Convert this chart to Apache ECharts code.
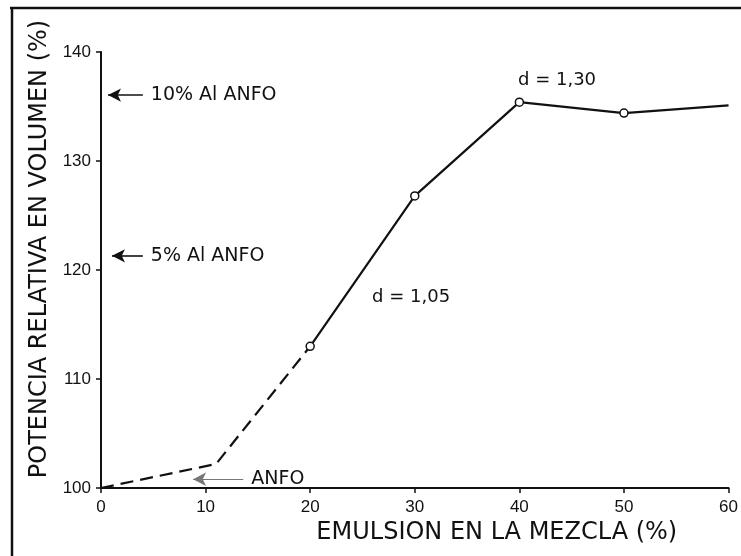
<!DOCTYPE html>
<html>
<head>
<meta charset="utf-8">
<script src="https://cdn.jsdelivr.net/npm/echarts@6/dist/echarts.min.js"></script>
<style>
  html, body { margin: 0; padding: 0; background: #fff; }
  #chart { width: 741px; height: 556px; }
</style>
</head>
<body>
<div id="chart"></div>
<script>
// ejes
const xTicks = [0, 10, 20, 30, 40, 50, 60]
const yTicks = [100, 110, 120, 130, 140]
// tramo ANFO -> d = 1,05 (discontinuo)
const dashedX = [0, 11, 20]
const dashedY = [100, 102.2, 113]
// tramo d = 1,05 -> d = 1,30 (continuo)
const solidX = [20, 30, 40, 50, 60]
const solidY = [113, 126.8, 135.4, 134.4, 135.1]
// puntos medidos (circulos)
const markedX = [20, 30, 40, 50]

const chart = echarts.init(document.getElementById('chart'))
const font = 'DejaVu Sans'

const dashedData = dashedX.map((x, i) => [x, dashedY[i]])
const solidData = solidX.map((x, i) => {
  const item = { value: [x, solidY[i]] }
  if (markedX.indexOf(x) < 0) item.symbol = 'none'
  return item
})

// flechas con su texto
const arrow = (x1, x2, y, text, color, width) => [
  { coord: [x1, y], lineStyle: { color: color, width: width, type: 'solid' } },
  { coord: [x2, y], label: { formatter: text } }
]

const option = {
  backgroundColor: '#fff',
  animation: false,
  grid: { left: 101, right: 12, top: 52, bottom: 68 },
  xAxis: {
    type: 'value',
    min: xTicks[0],
    max: xTicks[xTicks.length - 1],
    interval: 10,
    name: 'EMULSION EN LA MEZCLA (%)',
    nameLocation: 'middle',
    nameGap: 32,
    // el titulo esta desplazado a la derecha en el original
    nameTextStyle: { fontFamily: font, fontSize: 24, color: '#111', padding: [0, 0, 0, 164] },
    axisLine: { lineStyle: { color: '#111', width: 2 } },
    axisTick: { length: 5, lineStyle: { color: '#111', width: 1.5 } },
    axisLabel: { margin: 11, fontFamily: 'Liberation Sans', fontSize: 17, color: '#111' },
    splitLine: { show: false }
  },
  yAxis: {
    type: 'value',
    min: yTicks[0],
    max: yTicks[yTicks.length - 1],
    interval: 10,
    name: 'POTENCIA RELATIVA EN VOLUMEN (%)',
    nameLocation: 'middle',
    nameGap: 48,
    nameTextStyle: { fontFamily: font, fontSize: 24, color: '#111', padding: [0, 0, 0, 42] },
    axisLine: { show: true, lineStyle: { color: '#111', width: 2 } },
    axisTick: { show: true, length: 5, lineStyle: { color: '#111', width: 1.5 } },
    axisLabel: { margin: 10, fontFamily: 'Liberation Sans', fontSize: 17, color: '#111' },
    splitLine: { show: false }
  },
  series: [
    {
      type: 'line',
      data: dashedData,
      symbol: 'none',
      lineStyle: { color: '#111', width: 2.2, type: [13, 7] },
      markLine: {
        silent: true,
        symbol: ['arrow', 'none'],
        symbolSize: [10, 13],
        label: {
          show: true,
          position: 'end',
          distance: 8,
          fontFamily: font,
          fontSize: 19,
          color: '#111'
        },
        data: [
          arrow(0.67, 4.0, 136.05, '10% Al ANFO', '#111', 1.6),
          arrow(1.05, 4.0, 121.3, '5% Al ANFO', '#111', 1.6),
          arrow(8.8, 13.6, 100.8, 'ANFO', '#777', 1.2)
        ]
      }
    },
    {
      type: 'line',
      data: solidData,
      symbol: 'circle',
      symbolSize: 8,
      itemStyle: { color: '#fff', borderColor: '#111', borderWidth: 1.5 },
      lineStyle: { color: '#111', width: 2.2 },
      z: 3,
      markPoint: {
        silent: true,
        symbol: 'circle',
        symbolSize: 0,
        label: { show: true, position: 'inside', fontFamily: font, fontSize: 18, color: '#111' },
        data: [
          { coord: [43.6, 137.4], label: { formatter: 'd = 1,30' } },
          { coord: [29.65, 117.5], label: { formatter: 'd = 1,05' } }
        ]
      }
    }
  ],
  // marco de la figura
  graphic: [
    { type: 'line', shape: { x1: 10, y1: 8, x2: 741, y2: 8 }, style: { stroke: '#111', lineWidth: 2.5 } },
    { type: 'line', shape: { x1: 12, y1: 7, x2: 12, y2: 556 }, style: { stroke: '#111', lineWidth: 2.5 } }
  ]
}

chart.setOption(option)
</script>
</body>
</html>
